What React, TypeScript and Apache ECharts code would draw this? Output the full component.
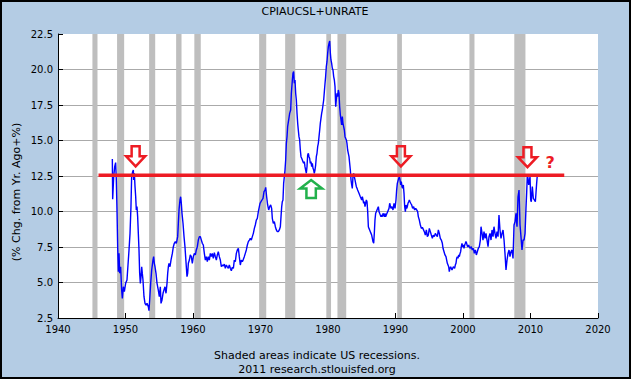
import React, { useEffect, useRef } from "react";
import * as echarts from "echarts";

// ---- Data (years as decimals, value = CPI % chg from yr ago + unemployment rate) ----
const xTicks = [1940, 1950, 1960, 1970, 1980, 1990, 2000, 2010, 2020];
const yTicks = [2.5, 5.0, 7.5, 10.0, 12.5, 15.0, 17.5, 20.0, 22.5];

const recessions: [number, number][] = [
  [1945.1, 1945.85], [1948.75, 1949.8], [1953.5, 1954.4], [1957.5, 1958.3],
  [1960.2, 1961.15], [1969.8, 1970.85], [1973.65, 1975.15], [1979.75, 1980.45],
  [1981.4, 1982.7], [1990.25, 1990.95], [2000.95, 2001.7], [2007.6, 2009.25],
];

const seg1948to1960: [number, number][] = [
  [1948.05,13.70],[1948.10,10.86],[1948.25,12.45],[1948.40,13.16],[1948.54,13.44],[1948.64,12.22],[1948.74,10.11],[1948.84,7.52],[1948.94,5.76],[1949.04,7.05],[1949.14,5.65],[1949.28,6.11],[1949.43,4.47],[1949.53,3.88],[1949.68,4.70],[1949.83,4.35],[1950.02,4.94],[1950.22,5.18],[1950.42,6.58],[1950.52,7.29],[1950.67,8.46],[1950.81,10.34],[1950.91,12.45],[1951.06,12.80],[1951.16,12.92],[1951.21,12.22],[1951.31,12.69],[1951.41,11.75],[1951.51,11.04],[1951.60,10.11],[1951.70,10.34],[1951.80,9.64],[1951.90,8.46],[1952.00,7.29],[1952.10,5.64],[1952.20,4.94],[1952.30,5.41],[1952.40,6.11],[1952.49,5.64],[1952.59,5.18],[1952.74,4.00],[1952.89,3.53],[1953.04,3.41],[1953.19,3.53],[1953.38,3.30],[1953.48,3.02],[1953.58,3.77],[1953.73,4.94],[1953.88,5.88],[1954.07,6.58],[1954.17,6.82],[1954.27,6.35],[1954.37,6.11],[1954.52,5.64],[1954.67,4.94],[1954.86,4.47],[1955.01,4.00],[1955.16,4.70],[1955.26,3.53],[1955.41,3.77],[1955.56,4.24],[1955.70,4.47],[1955.85,4.70],[1956.00,4.24],[1956.15,4.94],[1956.25,5.64],[1956.35,6.11],[1956.44,6.35],[1956.59,6.11],[1956.74,6.58],[1956.94,7.05],[1957.09,7.52],[1957.23,7.76],[1957.38,7.88],[1957.53,7.76],[1957.63,7.99],[1957.73,8.23],[1957.83,9.17],[1957.93,10.11],[1958.07,10.81],[1958.17,11.04],[1958.27,10.57],[1958.37,9.87],[1958.52,9.17],[1958.67,8.23],[1958.81,7.52],[1958.91,6.82],[1959.01,6.11],[1959.11,5.41],[1959.21,5.64],[1959.31,6.35],[1959.46,6.58],[1959.60,6.94],[1959.75,6.82],[1959.90,6.35],[1960.05,6.82],[1960.20,7.05],[1960.35,6.94],[1960.49,7.29],[1960.64,7.52],[1960.79,7.99],[1960.94,8.23],
];

const seg1961to1974: [number, number][] = [
  [1961.09,8.23],[1961.23,8.00],[1961.38,7.76],[1961.53,7.64],[1961.68,7.05],[1961.83,6.58],[1961.98,6.82],[1962.12,6.47],[1962.27,6.82],[1962.42,6.58],[1962.57,7.05],[1962.72,6.82],[1962.86,7.05],[1963.01,6.70],[1963.16,7.10],[1963.31,6.82],[1963.46,6.58],[1963.60,6.94],[1963.75,7.17],[1963.90,6.82],[1964.05,6.58],[1964.20,6.11],[1964.35,6.23],[1964.49,6.16],[1964.64,6.30],[1964.79,6.00],[1964.94,6.23],[1965.09,6.11],[1965.23,6.00],[1965.38,6.23],[1965.53,6.00],[1965.68,5.83],[1965.83,6.07],[1965.98,6.00],[1966.12,6.58],[1966.27,6.47],[1966.42,7.05],[1966.57,7.29],[1966.72,7.41],[1966.86,6.82],[1967.01,6.23],[1967.16,6.58],[1967.31,6.47],[1967.46,6.63],[1967.60,6.82],[1967.75,7.05],[1967.90,7.29],[1968.05,7.64],[1968.20,7.88],[1968.35,7.99],[1968.49,8.11],[1968.64,7.99],[1968.79,8.23],[1968.94,8.46],[1969.09,8.81],[1969.23,9.05],[1969.38,9.40],[1969.53,9.52],[1969.68,9.99],[1969.83,10.34],[1969.93,10.58],[1970.07,10.69],[1970.22,10.81],[1970.37,10.93],[1970.52,11.40],[1970.67,11.51],[1970.77,11.70],[1970.91,11.04],[1971.06,10.46],[1971.21,10.11],[1971.36,10.34],[1971.51,10.46],[1971.65,10.22],[1971.75,9.52],[1971.90,9.17],[1972.05,9.28],[1972.20,8.93],[1972.35,8.70],[1972.49,8.58],[1972.64,8.58],[1972.79,8.70],[1972.94,8.93],[1973.04,9.64],[1973.14,10.34],[1973.23,10.69],[1973.33,10.81],[1973.43,11.98],[1973.53,12.45],[1973.63,12.92],[1973.73,13.63],[1973.83,14.80],[1973.93,15.27],[1974.02,15.97],[1974.17,16.44],[1974.32,16.91],[1974.47,17.15],[1974.57,18.32],[1974.72,19.26],[1974.81,19.73],[1974.91,19.85],
];

const seg1975to1989: [number, number][] = [
  [1975.01,19.03],[1975.11,19.26],[1975.21,18.32],[1975.31,17.85],[1975.41,16.91],[1975.51,16.21],[1975.60,15.74],[1975.70,15.27],[1975.80,15.04],[1975.90,14.33],[1976.00,13.86],[1976.10,13.75],[1976.20,13.75],[1976.30,13.51],[1976.39,13.39],[1976.49,13.51],[1976.59,13.16],[1976.69,12.92],[1976.79,12.69],[1976.89,13.16],[1976.99,13.98],[1977.09,14.10],[1977.18,13.86],[1977.28,13.75],[1977.38,13.39],[1977.48,13.51],[1977.58,13.16],[1977.68,13.39],[1977.78,13.04],[1977.88,12.92],[1977.97,12.69],[1978.07,12.92],[1978.17,13.27],[1978.27,13.86],[1978.37,14.10],[1978.47,14.57],[1978.57,14.80],[1978.67,15.27],[1978.77,15.74],[1978.86,16.21],[1978.96,16.56],[1979.06,16.91],[1979.16,17.15],[1979.26,17.50],[1979.36,17.85],[1979.46,18.44],[1979.56,19.03],[1979.65,19.50],[1979.75,20.20],[1979.85,20.55],[1979.95,21.14],[1980.05,21.61],[1980.15,21.84],[1980.25,22.01],[1980.35,21.14],[1980.44,20.67],[1980.54,20.43],[1980.64,20.08],[1980.74,19.96],[1980.84,19.50],[1980.94,19.26],[1981.04,18.79],[1981.14,17.38],[1981.23,17.85],[1981.33,18.32],[1981.43,18.09],[1981.53,18.56],[1981.63,18.32],[1981.73,17.38],[1981.83,16.80],[1981.93,16.44],[1982.02,16.09],[1982.12,16.68],[1982.22,16.21],[1982.32,15.97],[1982.42,15.74],[1982.52,15.27],[1982.62,15.15],[1982.72,15.04],[1982.81,14.80],[1982.91,14.33],[1983.01,14.10],[1983.11,13.86],[1983.21,13.39],[1983.31,12.92],[1983.41,12.22],[1983.51,11.87],[1983.60,11.63],[1983.70,12.45],[1983.80,12.69],[1983.90,12.45],[1984.00,12.22],[1984.10,11.98],[1984.20,11.75],[1984.30,11.63],[1984.39,11.51],[1984.49,11.51],[1984.59,11.28],[1984.69,11.16],[1984.79,11.04],[1984.89,10.93],[1984.99,10.81],[1985.09,11.04],[1985.19,10.81],[1985.28,10.58],[1985.38,10.69],[1985.48,10.34],[1985.58,10.58],[1985.68,10.81],[1985.78,10.69],[1985.88,9.99],[1985.98,8.93],[1986.07,8.81],[1986.17,8.70],[1986.27,8.58],[1986.37,8.46],[1986.47,8.34],[1986.57,8.11],[1986.67,7.87],[1986.77,7.76],[1986.86,8.46],[1986.96,9.40],[1987.06,9.87],[1987.16,9.99],[1987.26,10.11],[1987.36,10.22],[1987.46,10.34],[1987.56,9.99],[1987.65,9.87],[1987.75,9.75],[1987.85,9.64],[1987.95,9.75],[1988.05,9.64],[1988.15,9.87],[1988.25,9.75],[1988.35,9.64],[1988.44,9.87],[1988.54,9.64],[1988.64,9.75],[1988.74,9.87],[1988.84,9.99],[1988.94,10.11],[1989.04,10.22],[1989.14,10.58],
];

const seg1989to2002: [number, number][] = [
  [1989.18,10.58],[1989.33,10.22],[1989.48,10.34],[1989.63,10.11],[1989.78,10.58],[1989.93,10.22],[1990.07,10.81],[1990.17,11.51],[1990.27,11.98],[1990.37,11.98],[1990.47,12.33],[1990.57,12.45],[1990.67,12.22],[1990.77,11.87],[1990.86,12.10],[1990.96,11.75],[1991.06,11.63],[1991.16,11.87],[1991.26,11.28],[1991.36,10.34],[1991.46,9.99],[1991.56,10.46],[1991.65,10.22],[1991.75,10.34],[1991.85,10.58],[1991.95,10.69],[1992.05,10.81],[1992.15,10.69],[1992.25,10.58],[1992.40,10.46],[1992.54,10.22],[1992.69,10.34],[1992.84,10.11],[1992.99,10.22],[1993.14,10.11],[1993.28,9.99],[1993.38,9.64],[1993.53,9.40],[1993.68,9.05],[1993.83,8.81],[1993.98,8.88],[1994.12,8.74],[1994.27,8.58],[1994.42,8.34],[1994.57,8.70],[1994.72,8.23],[1994.86,8.34],[1995.01,8.81],[1995.16,8.58],[1995.31,8.34],[1995.46,8.11],[1995.60,8.34],[1995.75,8.23],[1995.90,8.46],[1996.05,8.34],[1996.20,8.23],[1996.35,8.70],[1996.49,8.46],[1996.64,8.11],[1996.79,7.99],[1996.94,7.76],[1997.04,7.41],[1997.19,7.17],[1997.33,6.94],[1997.48,6.82],[1997.58,6.58],[1997.68,6.35],[1997.78,6.23],[1997.88,6.11],[1997.97,5.76],[1998.07,6.00],[1998.17,6.11],[1998.27,6.00],[1998.37,5.88],[1998.47,6.00],[1998.57,6.11],[1998.67,6.11],[1998.76,6.00],[1998.86,6.23],[1998.96,6.35],[1999.06,6.70],[1999.16,6.82],[1999.26,6.70],[1999.36,6.94],[1999.46,6.82],[1999.56,7.05],[1999.65,7.17],[1999.75,7.52],[1999.85,7.76],[1999.95,7.52],[2000.05,7.64],[2000.15,7.41],[2000.25,7.64],[2000.35,7.76],[2000.44,7.88],[2000.54,7.76],[2000.64,7.57],[2000.74,7.52],[2000.84,7.64],[2000.94,7.52],[2001.04,7.41],[2001.14,7.48],[2001.23,7.52],[2001.38,7.29],[2001.53,7.41],[2001.68,7.05],[2001.83,7.29],[2001.98,6.94],[2002.12,7.17],[2002.27,7.41],[2002.42,7.52],[2002.57,7.99],
];

const seg2002to2011: [number, number][] = [
  [2002.67,8.93],[2002.82,8.46],[2002.96,7.99],[2003.11,8.58],[2003.26,8.11],[2003.41,8.46],[2003.56,7.99],[2003.71,7.52],[2003.85,8.23],[2004.00,8.46],[2004.15,7.99],[2004.30,8.70],[2004.45,8.23],[2004.59,8.93],[2004.74,8.46],[2004.89,8.11],[2005.04,8.58],[2005.19,8.23],[2005.33,9.75],[2005.48,8.70],[2005.63,8.11],[2005.78,8.46],[2005.93,8.70],[2006.08,7.99],[2006.22,7.05],[2006.37,5.88],[2006.52,6.58],[2006.67,7.05],[2006.82,7.29],[2006.96,6.82],[2007.11,7.17],[2007.26,7.29],[2007.41,6.70],[2007.56,9.05],[2007.71,9.28],[2007.85,9.87],[2008.00,8.93],[2008.15,11.04],[2008.30,11.51],[2008.45,9.05],[2008.59,8.23],[2008.74,7.29],[2008.89,7.99],[2009.04,7.99],[2009.19,8.46],[2009.33,10.22],[2009.43,11.28],[2009.53,12.57],[2009.63,12.33],[2009.73,11.87],[2009.83,12.10],[2009.93,12.45],[2010.03,10.81],[2010.12,10.69],[2010.27,11.75],[2010.42,10.93],[2010.57,10.81],[2010.72,10.69],[2010.81,11.28],[2010.91,11.98],[2010.99,12.45],
];

const thresholdLine: [number, number][] = [[1946.0, 12.55], [2015.0, 12.55]];
// [year, tip value, direction: 1 = down arrow (red), -1 = up arrow (green)]
const arrowMarks: [number, number, number][] = [
  [1951.5, 13.11, 1], [1990.8, 13.11, 1], [2009.55, 13.05, 1], [1977.5, 12.29, -1],
];
const questionMark: [number, number][] = [[2012.9, 13.45]];

const RED = "#ED1C24";
const GREEN = "#22B14C";
const FONT = '"DejaVu Sans", Verdana, sans-serif';

const downArrow = [[-4, -21], [4, -21], [4, -11], [9.5, -11], [0, -1], [-9.5, -11], [-4, -11]];
const upArrow = [[-4.7, 19], [4.7, 19], [4.7, 9.5], [11, 9.5], [0, 1], [-11, 9.5], [-4.7, 9.5]];

export default function App() {
  const ref = useRef<HTMLDivElement>(null);
  useEffect(() => {
    const chart = echarts.init(ref.current!, null, { renderer: "svg" });
    const yMin = yTicks[0];
    const yMax = yTicks[yTicks.length - 1];
    const lineData = [
      ...seg1948to1960, ...seg1961to1974, ...seg1975to1989, ...seg1989to2002, ...seg2002to2011,
    ];
    chart.setOption({
      animation: false,
      backgroundColor: "#B4CCE4",
      textStyle: { fontFamily: FONT },
      grid: {
        left: 58, right: 33, top: 34, bottom: 61,
        show: true, backgroundColor: "#FFFFFF", borderWidth: 0,
      },
      xAxis: {
        type: "value",
        min: xTicks[0],
        max: xTicks[xTicks.length - 1],
        interval: 10,
        axisLine: { show: true, onZero: false, lineStyle: { color: "#000", width: 1 } },
        axisTick: { show: true, inside: true, length: 5, lineStyle: { color: "#000" } },
        axisLabel: { fontSize: 10, color: "#000", margin: 6, fontFamily: FONT, formatter: (v: number) => String(v) },
        splitLine: { show: false },
      },
      yAxis: {
        type: "value",
        min: yMin,
        max: yMax,
        interval: 2.5,
        axisLine: { show: true, lineStyle: { color: "#000", width: 1 } },
        axisTick: { show: true, inside: true, length: 5, lineStyle: { color: "#000" } },
        axisLabel: { fontSize: 10, color: "#000", margin: 5, fontFamily: FONT, formatter: (v: number) => v.toFixed(1) },
        splitLine: { show: true, showMaxLine: false, showMinLine: false, lineStyle: { color: "#AAAAAA", width: 1 } },
      },
      graphic: [
        { type: "rect", silent: true, z: 100, shape: { x: 1, y: 1, width: 629, height: 377 },
          style: { fill: "none", stroke: "#000", lineWidth: 2 } },
        { type: "text", x: 315, y: 11, style: { text: "CPIAUCSL+UNRATE", font: `11px ${FONT}`, fill: "#000", textAlign: "center", textVerticalAlign: "middle" } },
        { type: "text", x: 16, y: 192, rotation: Math.PI / 2, style: { text: "(% Chg. from Yr. Ago+%)", font: `11px ${FONT}`, fill: "#000", textAlign: "center", textVerticalAlign: "middle" } },
        { type: "text", x: 317, y: 355, style: { text: "Shaded areas indicate US recessions.", font: `11px ${FONT}`, fill: "#000", textAlign: "center", textVerticalAlign: "middle" } },
        { type: "text", x: 317, y: 369, style: { text: "2011 research.stlouisfed.org", font: `11px ${FONT}`, fill: "#000", textAlign: "center", textVerticalAlign: "middle" } },
      ],
      series: [
        {
          type: "custom",
          name: "Recessions",
          z: 1,
          silent: true,
          data: recessions.map(([s, e]) => [s, e, yMin, yMax]),
          encode: { x: [0, 1], y: [2, 3] },
          renderItem: (_p: any, api: any) => {
            const a = api.coord([api.value(0), api.value(3)]);
            const b = api.coord([api.value(1), api.value(2)]);
            return { type: "rect", shape: { x: a[0], y: a[1], width: b[0] - a[0], height: b[1] - a[1] }, style: { fill: "#BEBEBE" } };
          },
        },
        {
          type: "line",
          name: "CPIAUCSL+UNRATE",
          z: 3,
          data: lineData,
          showSymbol: false,
          symbol: "none",
          lineStyle: { color: "#0000FF", width: 1.4 },
        },
        {
          type: "line",
          name: "Threshold",
          z: 4,
          data: thresholdLine,
          showSymbol: false,
          symbol: "none",
          lineStyle: { color: RED, width: 3.5 },
        },
        {
          type: "custom",
          name: "Arrows",
          z: 5,
          silent: true,
          data: arrowMarks,
          encode: { x: 0, y: 1 },
          renderItem: (_p: any, api: any) => {
            const p = api.coord([api.value(0), api.value(1)]);
            const down = api.value(2) > 0;
            const pts = (down ? downArrow : upArrow).map(([dx, dy]) => [p[0] + dx, p[1] + dy]);
            return { type: "polygon", shape: { points: pts }, style: { fill: "none", stroke: down ? RED : GREEN, lineWidth: 2.5, lineJoin: "miter" } };
          },
        },
        {
          type: "custom",
          name: "Question",
          z: 6,
          silent: true,
          data: questionMark,
          encode: { x: 0, y: 1 },
          renderItem: (_p: any, api: any) => {
            const p = api.coord([api.value(0), api.value(1)]);
            return { type: "text", x: p[0], y: p[1], style: { text: "?", fill: RED, font: `bold 16px ${FONT}`, textAlign: "center", textVerticalAlign: "middle" } };
          },
        },
      ],
    });
    return () => chart.dispose();
  }, []);
  return <div ref={ref} style={{ position: "absolute", left: 0, top: 0, width: 631, height: 379 }} />;
}
